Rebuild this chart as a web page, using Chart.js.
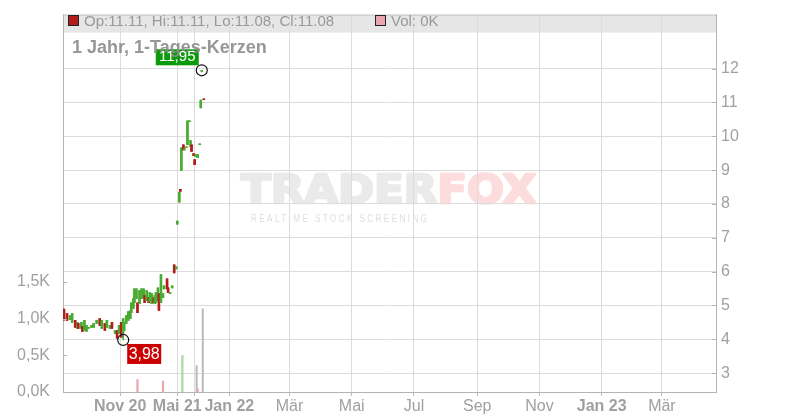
<!DOCTYPE html>
<html>
<head>
<meta charset="utf-8">
<script src="https://cdn.jsdelivr.net/npm/chart.js@4.4.0/dist/chart.umd.min.js"></script>
<style>
html, body { margin: 0; padding: 0; background: #fff; }
#wrap { width: 800px; height: 420px; }
</style>
</head>
<body>
<div id="wrap"><canvas id="chart" width="800" height="420"></canvas></div>
<script>
// x = day offset from 1 Jan 2022 on the chart's (compressed) time axis
var candleX = [-162, -159, -156, -154, -151, -149, -148, -145, -144, -142, -140, -138, -135, -133, -130,
  -127, -125, -122, -120, -117, -115, -112, -110, -108, -106, -104, -103, -101, -99, -97, -96, -94, -93,
  -91, -90, -88, -86, -84, -83, -81, -79, -78, -76, -74, -73, -72, -70, -69, -67, -65, -64, -61, -60,
  -58, -56, -54, -52, -51, -49, -48, -47, -45, -44, -42, -41, -39, -38, -37, -35, -34, -33, -31, -29,
  -28, -27, -25];
var openP = [4.88, 4.76, 4.58, 4.50, 4.56, 4.32, 4.47, 4.32, 4.38, 4.26, 4.23, 4.32, 4.35, 4.35, 4.47,
  4.61, 4.32, 4.47, 4.35, 4.32, 4.50, 4.17, 4.26, 4.17, 4.50, 4.20, 4.26, 4.47, 4.56, 4.61, 4.79, 4.91, 5.08,
  5.20, 5.08, 5.05, 5.20, 5.23, 5.29, 5.14, 5.23, 5.11, 5.05, 5.23, 5.05, 5.08, 5.14, 5.35, 5.08, 5.23, 5.49, 5.79, 5.52,
  5.35, 5.52, 6.20, 6.08, 7.40, 8.05, 8.43, 8.99, 9.75, 9.60, 9.66, 9.75, 10.43, 9.69, 9.75, 9.49, 9.31, 9.40, 9.37, 9.75,
  10.84, 11.92, 11.11];
var highP = [4.90, 4.76, 4.70, 4.76, 4.56, 4.50, 4.47, 4.50, 4.38, 4.56, 4.41, 4.35, 4.41, 4.47, 4.56,
  4.61, 4.56, 4.47, 4.56, 4.41, 4.50, 4.26, 4.26, 4.41, 4.50, 4.61, 4.50, 4.70, 4.82, 4.85, 5.08, 5.20, 5.49,
  5.49, 5.08, 5.44, 5.49, 5.49, 5.29, 5.44, 5.23, 5.38, 5.35, 5.23, 5.29, 5.38, 5.52, 5.35, 5.91, 5.35, 5.58, 5.79, 5.52,
  5.38, 5.58, 6.20, 6.14, 7.49, 8.34, 8.43, 9.66, 9.75, 9.63, 9.69, 10.46, 10.46, 9.87, 9.75, 9.49, 9.31, 9.46, 9.46, 9.78,
  11.07, 11.95, 11.11];
var lowP = [4.56, 4.56, 4.58, 4.50, 4.35, 4.32, 4.32, 4.32, 4.23, 4.26, 4.23, 4.32, 4.35, 4.35, 4.47,
  4.41, 4.32, 4.26, 4.35, 4.32, 4.32, 4.17, 4.03, 4.17, 4.06, 3.98, 4.26, 4.47, 4.56, 4.61, 4.79, 4.91, 5.08,
  5.20, 4.79, 5.05, 5.20, 5.23, 5.08, 5.14, 5.08, 5.11, 5.05, 5.08, 5.05, 5.08, 5.14, 4.85, 5.08, 5.23, 5.49, 5.49, 5.38,
  5.35, 5.52, 5.96, 6.08, 7.40, 8.05, 8.37, 8.99, 9.60, 9.60, 9.66, 9.75, 10.43, 9.69, 9.55, 9.43, 9.16, 9.40, 9.37, 9.75,
  10.84, 11.92, 11.08];
var closeP = [4.58, 4.56, 4.70, 4.76, 4.35, 4.50, 4.32, 4.50, 4.23, 4.56, 4.41, 4.35, 4.41, 4.47, 4.56,
  4.41, 4.56, 4.26, 4.56, 4.41, 4.32, 4.26, 4.03, 4.41, 4.06, 4.61, 4.50, 4.70, 4.82, 4.85, 5.08, 5.20, 5.49,
  5.49, 4.79, 5.44, 5.49, 5.49, 5.08, 5.44, 5.08, 5.38, 5.35, 5.08, 5.29, 5.38, 5.52, 4.85, 5.91, 5.35, 5.58, 5.49, 5.38,
  5.38, 5.58, 5.96, 6.14, 7.49, 8.34, 8.37, 9.66, 9.60, 9.63, 9.69, 10.46, 10.46, 9.87, 9.55, 9.43, 9.16, 9.46, 9.46, 9.78,
  11.07, 11.95, 11.08];

var volX = [-90, -65, -46, -32, -31, -26];
var volK = [0.17, 0.15, 0.50, 0.36, 0.04, 1.13];
var volKind = ['down', 'down', 'up', 'flat', 'down', 'flat'];

var priceTicks = [3, 4, 5, 6, 7, 8, 9, 10, 11, 12];
var volTicks = [0, 0.5, 1.0, 1.5];
var timeTickX = [-107, -51, -34, 0, 59, 120, 181, 243, 304, 365, 424];
var timeTickLabels = ['Nov 20', 'Mai 21', '', 'Jan 22', 'Mär', 'Mai', 'Jul', 'Sep', 'Nov', 'Jan 23', 'Mär'];

var UP = '#4aab32', DOWN = '#b41c1c';
var volColors = { up: '#a9d9a0', down: '#eaa6ae', flat: '#bdbdbd' };
var FONT = "'Liberation Sans', Arial, sans-serif";

function candleColor(i) { return closeP[i] >= openP[i] ? UP : DOWN; }
function deComma(v, d) { return v.toFixed(d).replace('.', ','); }

var hiIdx = highP.indexOf(Math.max.apply(null, highP));
var loIdx = lowP.indexOf(Math.min.apply(null, lowP));
var last = candleX.length - 1;

Chart.defaults.font.family = FONT;
Chart.defaults.color = '#999';

var chartDecor = {
  id: 'chartDecor',
  beforeDraw: function (c) {
    var ctx = c.ctx, a = c.chartArea;
    ctx.save();
    // header band
    ctx.fillStyle = '#e6e6e6';
    ctx.fillRect(a.left, a.top, a.right - a.left, 18);
    // watermark
    ctx.textBaseline = 'alphabetic';
    ctx.font = "bold 39px 'DejaVu Sans', sans-serif";
    ctx.lineWidth = 2.5;
    ctx.lineJoin = 'round';
    var w1 = ctx.measureText('TRADER').width, w2 = ctx.measureText('FOX').width;
    ctx.translate(241, 203);
    ctx.scale(295 / (w1 + w2), 1);
    ctx.fillStyle = ctx.strokeStyle = '#eaeaea';
    ctx.strokeText('TRADER', 0, 0);
    ctx.fillText('TRADER', 0, 0);
    ctx.fillStyle = ctx.strokeStyle = '#fcdcdc';
    ctx.strokeText('FOX', w1, 0);
    ctx.fillText('FOX', w1, 0);
    ctx.restore();
    ctx.save();
    ctx.font = '10px ' + FONT;
    ctx.fillStyle = '#dedede';
    ctx.letterSpacing = '3px';
    var sub = 'REALTIME STOCK SCREENING';
    var sw = ctx.measureText(sub).width - 3;
    ctx.translate(251, 222);
    ctx.scale(176 / sw, 1);
    ctx.fillText(sub, 0, 0);
    ctx.restore();
  },
  afterDraw: function (c) {
    var ctx = c.ctx, a = c.chartArea;
    var xs = c.scales.x, ps = c.scales.price, vs = c.scales.vol;
    ctx.save();
    // top frame line
    ctx.strokeStyle = '#c4c4c4';
    ctx.lineWidth = 1;
    ctx.beginPath();
    ctx.moveTo(a.left, a.top + 0.5);
    ctx.lineTo(a.right, a.top + 0.5);
    ctx.stroke();
    // inward tick marks on the y axes
    ctx.strokeStyle = '#b4b4b4';
    ctx.beginPath();
    priceTicks.forEach(function (t) {
      var y = Math.round(ps.getPixelForValue(t)) + 0.5;
      ctx.moveTo(a.right - 4, y); ctx.lineTo(a.right, y);
    });
    volTicks.forEach(function (t) {
      var y = Math.round(vs.getPixelForValue(t)) + 0.5;
      ctx.moveTo(a.left, y); ctx.lineTo(a.left + 4, y);
    });
    ctx.stroke();

    // legend in header band
    ctx.font = '15px ' + FONT;
    ctx.textBaseline = 'middle';
    ctx.fillStyle = DOWN;
    ctx.strokeStyle = '#222';
    ctx.fillRect(68.5, 15.5, 10, 10);
    ctx.strokeRect(68.5, 15.5, 10, 10);
    ctx.fillStyle = '#999';
    ctx.fillText('Op:' + openP[last].toFixed(2) + ', Hi:' + highP[last].toFixed(2) +
      ', Lo:' + lowP[last].toFixed(2) + ', Cl:' + closeP[last].toFixed(2), 84, 21.5);
    ctx.fillStyle = volColors.down;
    ctx.fillRect(375.5, 15.5, 10, 10);
    ctx.strokeRect(375.5, 15.5, 10, 10);
    ctx.fillStyle = '#999';
    ctx.fillText('Vol: 0K', 391, 21.5);

    // high / low labels
    var hx = xs.getPixelForValue(candleX[hiIdx]), hy = ps.getPixelForValue(highP[hiIdx]);
    var lx = xs.getPixelForValue(candleX[loIdx]), ly = ps.getPixelForValue(lowP[loIdx]);
    ctx.fillStyle = '#0c990c';
    ctx.fillRect(hx - 46, hy - 21, 43, 16);
    ctx.fillStyle = '#cc0000';
    ctx.fillRect(lx + 4, ly + 4, 34, 20);

    // title
    ctx.font = 'bold 18px ' + FONT;
    ctx.fillStyle = '#8c8c8c';
    ctx.globalAlpha = 0.9;
    ctx.fillText('1 Jahr, 1-Tages-Kerzen', 72, 48);
    ctx.globalAlpha = 1;

    ctx.fillStyle = '#fff';
    ctx.textAlign = 'center';
    ctx.font = '15px ' + FONT;
    ctx.fillText(deComma(highP[hiIdx], 2), hx - 24.5, hy - 13);
    ctx.font = '16px ' + FONT;
    ctx.fillText(deComma(lowP[loIdx], 2), lx + 21, ly + 14.5);
    ctx.restore();
  }
};

var ctx = document.getElementById('chart').getContext('2d');
new Chart(ctx, {
  type: 'bar',
  data: {
    datasets: [{
      type: 'scatter',
      label: 'extremes',
      yAxisID: 'price',
      order: 0,
      data: [{ x: candleX[hiIdx], y: highP[hiIdx] }, { x: candleX[loIdx], y: lowP[loIdx] }],
      pointRadius: 5.5,
      pointBorderColor: '#111',
      pointBorderWidth: 1.2,
      pointBackgroundColor: 'rgba(0,0,0,0)'
    }, {
      label: 'body',
      yAxisID: 'price',
      order: 1,
      grouped: false,
      barThickness: 2,
      minBarLength: 1,
      data: candleX.map(function (x, i) { return { x: x, y: [openP[i], closeP[i]] }; }),
      backgroundColor: candleX.map(function (x, i) { return candleColor(i); })
    }, {
      label: 'wick',
      yAxisID: 'price',
      order: 2,
      grouped: false,
      barThickness: 1,
      minBarLength: 1,
      data: candleX.map(function (x, i) { return { x: x, y: [lowP[i], highP[i]] }; }),
      backgroundColor: candleX.map(function (x, i) { return candleColor(i); })
    }, {
      label: 'volume',
      yAxisID: 'vol',
      order: 3,
      grouped: false,
      barThickness: 1.5,
      data: volX.map(function (x, i) { return { x: x, y: volK[i] }; }),
      backgroundColor: volKind.map(function (k) { return volColors[k]; })
    }]
  },
  options: {
    responsive: false,
    animation: false,
    layout: { padding: { top: 12, left: 0, right: 0, bottom: 0 } },
    plugins: { legend: { display: false }, tooltip: { enabled: false } },
    scales: {
      x: {
        type: 'linear',
        min: -163,
        max: 477,
        offset: false,
        grid: { offset: false, color: '#dcdcdc', drawTicks: true, tickLength: 4, tickColor: '#bdbdbd' },
        border: { color: '#b4b4b4' },
        afterBuildTicks: function (s) { s.ticks = timeTickX.map(function (v) { return { value: v }; }); },
        afterFit: function (s) { s.height = 28; },
        ticks: {
          autoSkip: false,
          maxRotation: 0,
          padding: 1,
          color: '#a0a0a0',
          font: function (c) {
            var lbl = timeTickLabels[c.index] || '';
            return { size: 16, weight: /\d/.test(lbl) ? 'bold' : 'normal' };
          },
          callback: function (v, i) { return timeTickLabels[i]; }
        }
      },
      vol: {
        type: 'linear',
        position: 'left',
        min: 0,
        max: 380 / 74,
        grid: { display: false },
        border: { color: '#b4b4b4' },
        afterBuildTicks: function (s) { s.ticks = volTicks.map(function (v) { return { value: v }; }); },
        afterFit: function (s) { s.width = 63; },
        ticks: {
          padding: 5,
          color: '#a0a0a0',
          font: { size: 16 },
          callback: function (v) { return deComma(v, 1) + 'K'; }
        }
      },
      price: {
        type: 'linear',
        position: 'right',
        min: 3 - 19 / 34.07,
        max: 3 + 361 / 34.07,
        grid: { color: '#dcdcdc', drawTicks: false },
        border: { color: '#b4b4b4' },
        afterBuildTicks: function (s) { s.ticks = priceTicks.map(function (v) { return { value: v }; }); },
        afterFit: function (s) { s.width = 84; },
        ticks: {
          padding: 5,
          color: '#a0a0a0',
          font: { size: 16 },
          callback: function (v) { return String(v); }
        }
      }
    }
  },
  plugins: [chartDecor]
});
</script>
</body>
</html>
